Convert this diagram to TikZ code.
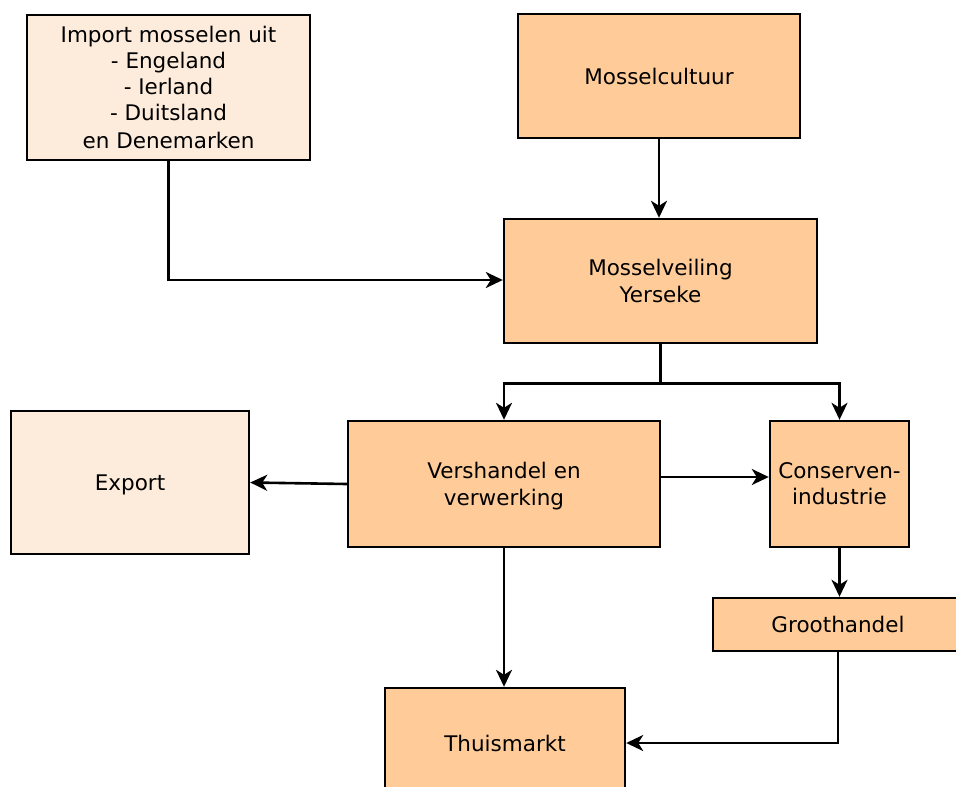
\documentclass[tikz,border=0pt]{standalone}
\usepackage{fontspec}
\setmainfont{DejaVu Sans}
\usetikzlibrary{arrows.meta}
\definecolor{boxfill}{RGB}{255,204,153}
\definecolor{lightfill}{RGB}{253,236,219}
\tikzset{
  box/.style={draw=black, line width=2.4pt, fill=boxfill, align=center, inner sep=0pt,
              text depth=0pt, font=\fontsize{21.5}{26}\selectfont},
  lightbox/.style={box, fill=lightfill},
  conn/.style={line width=2.6pt, -{Stealth[length=17pt,width=16pt,inset=5pt]}}
}
\begin{document}
\begin{tikzpicture}[x=1pt,y=-1pt]
\useasboundingbox (0,0) rectangle (956,787);
\fill[white] (0,0) rectangle (956,787);
\begin{scope}
\clip (0,0) rectangle (956,787);
\node[lightbox, minimum width=283, minimum height=145] (imp) at (168.5,87.5)
  {Import mosselen uit\\- Engeland\\ - Ierland\\- Duitsland\\[2pt]en Denemarken};
\node[box, minimum width=282, minimum height=124] (mc) at (659,76) {Mosselcultuur};
\node[box, minimum width=313, minimum height=124] (mv) at (660.5,281) {Mosselveiling\\[1pt]Yerseke};
\node[lightbox, minimum width=238, minimum height=143] (exp) at (130,482.5) {Export};
\node[box, minimum width=312, minimum height=126] (vh) at (504,484) {Vershandel en\\[1pt]verwerking};
\node[box, minimum width=139, minimum height=126] (cons) at (839.5,484) {Conserven-\\industrie};
\node[box, minimum width=250, minimum height=53] (groot) at (838,624.5) {Groothandel};
\node[box, minimum width=240, minimum height=110] (thuis) at (505,743) {Thuismarkt};
\end{scope}
\draw[conn] (mc.south) -- (mc.south |- mv.north);
\draw[conn] (imp.south) |- ([yshift=1]mv.west);
\draw[conn] (mv.south) -- ++(0,39) -| (vh.north);
\draw[conn] (mv.south) -- ++(0,39) -| (cons.north);
\draw[conn] (vh.west) -- (exp.east);
\draw[conn] ([yshift=7]vh.east) -- ([yshift=7]cons.west);
\draw[conn] (cons.south) -- (cons.south |- groot.north);
\draw[conn] (vh.south) -- (vh.south |- thuis.north);
\draw[conn] (groot.south) |- (thuis.east);
\end{tikzpicture}
\end{document}
